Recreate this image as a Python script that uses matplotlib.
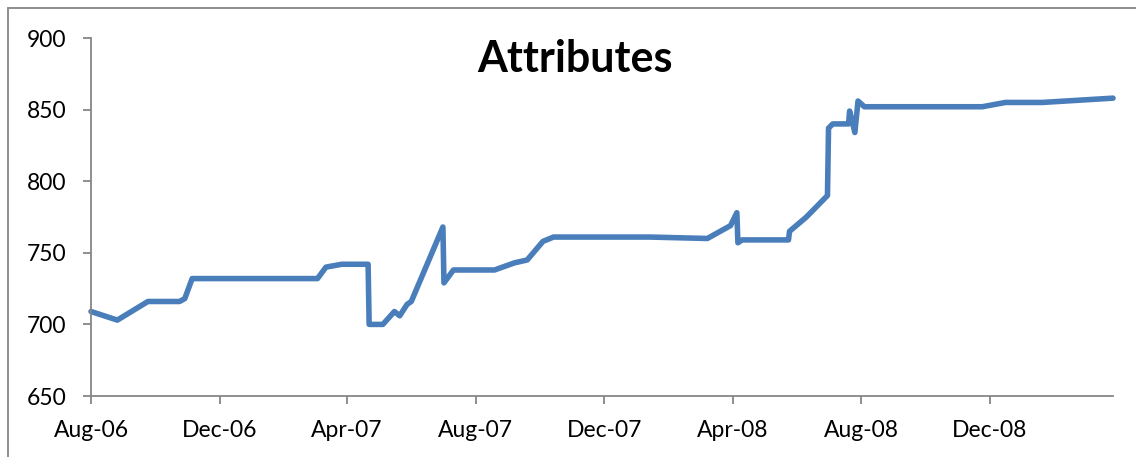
import datetime as dt
import matplotlib
matplotlib.use("Agg")
import matplotlib.pyplot as plt
import matplotlib.dates as mdates
from matplotlib.patches import Rectangle

# data
dates = [
    "2006-08-01", "2006-08-26", "2006-09-24", "2006-10-24", "2006-10-29",
    "2006-11-05", "2007-03-04", "2007-03-12", "2007-03-27", "2007-04-21",
    "2007-04-22", "2007-05-05", "2007-05-16", "2007-05-21", "2007-05-28",
    "2007-06-01", "2007-07-01", "2007-07-02", "2007-07-11", "2007-08-19",
    "2007-09-07", "2007-09-19", "2007-10-04", "2007-10-14", "2008-01-13",
    "2008-03-08", "2008-03-30", "2008-04-05", "2008-04-06", "2008-04-10",
    "2008-05-24", "2008-05-25", "2008-06-10", "2008-06-30", "2008-07-01",
    "2008-07-05", "2008-07-20", "2008-07-21", "2008-07-26", "2008-07-29",
    "2008-08-04", "2008-11-24", "2008-12-16", "2009-01-20", "2009-03-28",
]
values = [
    709, 703, 716, 716, 718,
    732, 732, 740, 742, 742,
    700, 700, 709, 706, 714,
    716, 768, 729, 738, 738,
    743, 745, 758, 761, 761,
    760, 769, 778, 757, 759,
    759, 765, 775, 790, 837,
    840, 840, 849, 834, 856,
    852, 852, 855, 855, 858,
]
title = "Attributes"

x = [dt.datetime.strptime(d, "%Y-%m-%d") for d in dates]

W, H = 1136, 457
fig = plt.figure(figsize=(W / 100, H / 100), dpi=100)
ax = fig.add_axes([91 / W, 1 - 396 / H, (1113 - 91) / W, (396 - 38) / H])

ax.plot(x, values, color="#4A7EBB", lw=4, solid_joinstyle="round",
        solid_capstyle="round", clip_on=False)

ax.set_xlim(x[0], x[-1])
ax.set_ylim(650, 900)
ax.set_yticks(range(650, 901, 50))
ax.xaxis.set_major_locator(mdates.MonthLocator(bymonth=[4, 8, 12]))
ax.xaxis.set_major_formatter(mdates.DateFormatter("%b-%y"))

grey = "#868686"
for s in ["top", "right"]:
    ax.spines[s].set_visible(False)
for s in ["left", "bottom"]:
    ax.spines[s].set_color(grey)
    ax.spines[s].set_linewidth(1.3)
ax.tick_params(direction="out", length=6, width=1.3, color=grey,
               labelsize=16.5, labelcolor="black")
ax.tick_params(axis="y", pad=12)
ax.tick_params(axis="x", pad=11)
for lab in ax.get_xticklabels() + ax.get_yticklabels():
    lab.set_fontfamily("Lato")

fig.text(575 / W, 1 - 59 / H, title, ha="center", va="center",
         fontsize=31, fontweight="bold", family="Lato")

# outer chart frame
fig.patches.append(Rectangle((8 / W, -0.1), 1.2, 1.1 - 8 / H,
                             transform=fig.transFigure, fill=False,
                             edgecolor=grey, lw=1.3))

plt.savefig("out.png", dpi=100)
